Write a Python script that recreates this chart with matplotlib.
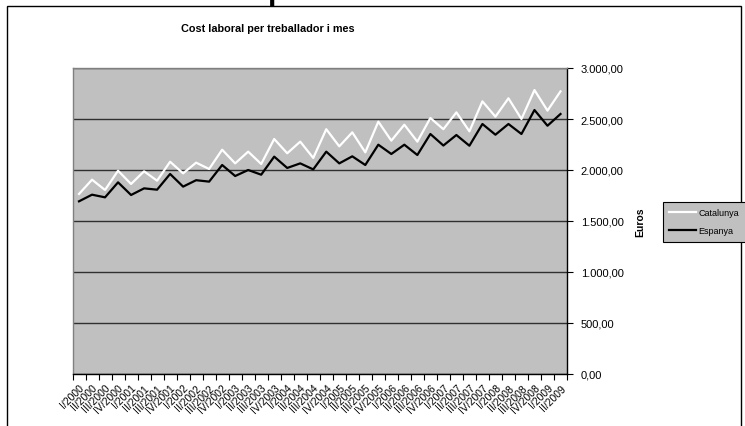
import matplotlib
matplotlib.use("Agg")
from matplotlib import pyplot as plt
from matplotlib.patches import Rectangle
from matplotlib.ticker import FuncFormatter, FixedLocator

plt.rcParams['font.family'] = ['Liberation Sans', 'DejaVu Sans']

# trimestres I/2000 ... II/2009
romans = ['I', 'II', 'III', 'IV']
trimestres = [f'{romans[q]}/{any_}' for any_ in range(2000, 2010) for q in range(4)][:38]

# cost laboral mensual (euros)
catalunya = [1765, 1905, 1804, 1993, 1863, 1987, 1895, 2081, 1967, 2072,
             2010, 2199, 2065, 2180, 2059, 2304, 2164, 2278, 2118, 2400,
             2232, 2369, 2173, 2474, 2288, 2444, 2278, 2510, 2400, 2565,
             2379, 2673, 2523, 2703, 2500, 2784, 2582, 2771]
espanya = [1693, 1758, 1732, 1879, 1755, 1820, 1807, 1961, 1837, 1900,
           1886, 2049, 1941, 2000, 1954, 2131, 2020, 2065, 2006, 2180,
           2065, 2134, 2049, 2248, 2157, 2248, 2147, 2353, 2240, 2343,
           2238, 2451, 2346, 2451, 2353, 2588, 2434, 2549]

W, H = 745, 427
fig = plt.figure(figsize=(W / 100, H / 100), dpi=100)

# marc exterior del grafic
fig.patches.append(Rectangle((7 / W, -0.01), (741 - 7) / W, 1 - 7 / H + 0.01,
                             transform=fig.transFigure, fill=False,
                             edgecolor='black', lw=1.0))

# resta del titol gran que queda tallat a dalt
fig.text(268 / W, 1 + 1.5 / H, 'p', fontsize=22, fontweight='bold',
         ha='left', va='baseline', color='black')

ax = fig.add_axes([72.5 / W, 1 - 375 / H, (567 - 72.5) / W, (375 - 69) / H])
ax.set_facecolor('#c0c0c0')

x = range(len(trimestres))
ax.plot(x, catalunya, color='white', lw=1.6, label='Catalunya', zorder=3)
ax.plot(x, espanya, color='black', lw=1.6, label='Espanya', zorder=3)

ax.set_xlim(-0.5, len(trimestres) - 0.5)
ax.set_ylim(0, 3000)

# eix Y a la dreta
ax.yaxis.tick_right()
ax.set_yticks(range(0, 3001, 500))
ax.yaxis.set_major_formatter(FuncFormatter(
    lambda v, p: f'{v:,.2f}'.replace(',', 'X').replace('.', ',').replace('X', '.')))
ax.tick_params(axis='y', direction='out', length=4, width=0.8, labelsize=8,
               pad=6, colors='black')
ax.grid(axis='y', color='#303030', lw=1.0)
ax.set_axisbelow(True)

# eix X: etiquetes al centre i marques entre categories
ax.set_xticks(list(x))
ax.set_xticklabels(trimestres, rotation=45, ha='right', rotation_mode='anchor',
                   fontsize=7.5)
ax.tick_params(axis='x', which='major', length=0, pad=6)
ax.xaxis.set_minor_locator(FixedLocator([i - 0.5 for i in range(len(trimestres) + 1)]))
ax.tick_params(axis='x', which='minor', direction='out', length=4, width=0.8)

for side in ['left', 'top']:
    ax.spines[side].set_color('#808080')
for side in ['right', 'bottom']:
    ax.spines[side].set_color('black')
for s in ax.spines.values():
    s.set_linewidth(1.0)

fig.text(268 / W, 1 - 29 / H, 'Cost laboral per treballador i mes',
         fontsize=7.8, fontweight='bold', ha='center', va='center')
fig.text(640 / W, 1 - 222 / H, 'Euros', fontsize=7.5, fontweight='bold',
         rotation=90, ha='center', va='center')

leg = fig.legend(loc='upper left', bbox_to_anchor=(663 / W, 1 - 203 / H),
                 fontsize=6.5, frameon=True, fancybox=False, handlelength=3.0,
                 handletextpad=0.25, borderpad=0.7, labelspacing=1.0,
                 borderaxespad=0)
leg.get_frame().set_facecolor('#c0c0c0')
leg.get_frame().set_edgecolor('black')
leg.get_frame().set_linewidth(0.8)
leg.get_frame().set_alpha(1)

fig.savefig('out.png', dpi=100)
